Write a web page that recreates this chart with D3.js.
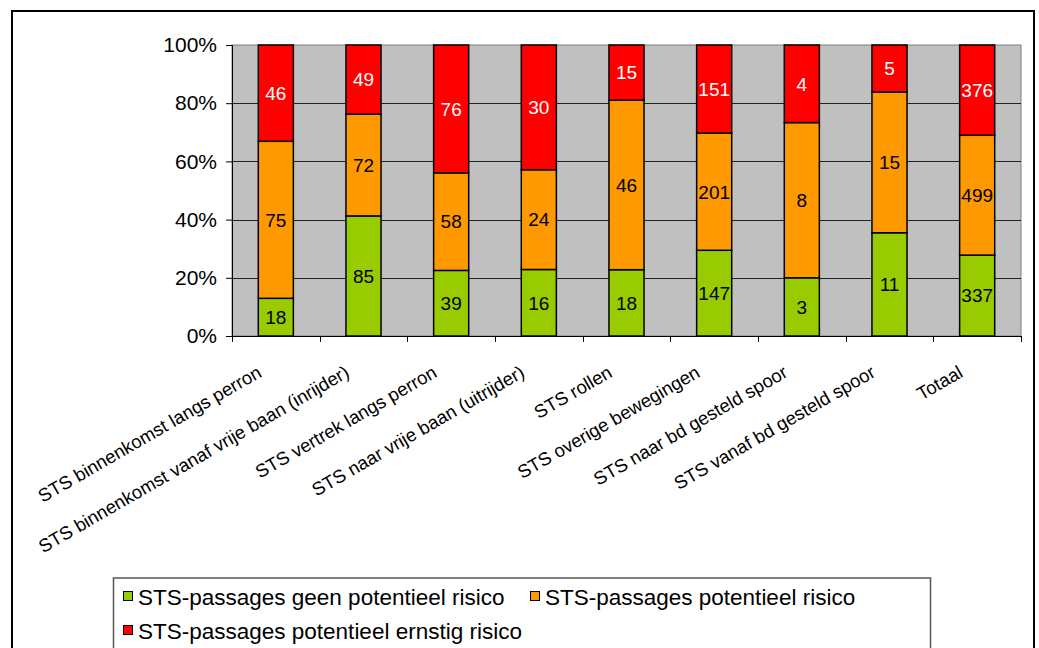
<!DOCTYPE html>
<html>
<head>
<meta charset="utf-8">
<script src="https://cdn.jsdelivr.net/npm/d3@7"></script>
<style>
  body { margin: 0; background: #fff; }
  svg { display: block; font-family: "Liberation Sans", Arial, sans-serif; }
</style>
</head>
<body>
<div id="chart"></div>
<script>
// categories and counts per series
var categories = [
  "STS binnenkomst langs perron",
  "STS binnenkomst vanaf vrije baan (inrijder)",
  "STS vertrek langs perron",
  "STS naar vrije baan (uitrijder)",
  "STS rollen",
  "STS overige bewegingen",
  "STS naar bd gesteld spoor",
  "STS vanaf bd gesteld spoor",
  "Totaal"
];
var geenRisico    = [18, 85, 39, 16, 18, 147, 3, 11, 337];
var potRisico     = [75, 72, 58, 24, 46, 201, 8, 15, 499];
var ernstigRisico = [46, 49, 76, 30, 15, 151, 4, 5, 376];
var seriesNames = [
  "STS-passages geen potentieel risico",
  "STS-passages potentieel risico",
  "STS-passages potentieel ernstig risico"
];
var yTicks = [0, 0.2, 0.4, 0.6, 0.8, 1];

var W = 1039, H = 648;
var plot = {left: 232, right: 1021, top: 45, bottom: 336};
var colors = ["#99CC00", "#FF9900", "#FF0000"];
var labelColors = ["#000", "#000", "#fff"];

var svg = d3.select("#chart").append("svg").attr("width", W).attr("height", H);

// outer frame
svg.append("rect").attr("x", 12).attr("y", 11).attr("width", 1022).attr("height", 700)
  .attr("fill", "#fff").attr("stroke", "#000").attr("stroke-width", 2);

var x = d3.scaleBand().domain(categories).range([plot.left, plot.right]).paddingInner(0.6).paddingOuter(0.3);
var xb = d3.scaleBand().domain(categories).range([plot.left, plot.right]);
var y = d3.scaleLinear().domain([0, 1]).range([plot.bottom, plot.top]);

// plot background
svg.append("rect").attr("x", plot.left).attr("y", plot.top)
  .attr("width", plot.right - plot.left).attr("height", plot.bottom - plot.top)
  .attr("fill", "#C0C0C0").attr("stroke", "#808080").attr("stroke-width", 1);

// gridlines
svg.append("g").selectAll("line").data(yTicks.filter(function(d) { return d > 0 && d < 1; }))
  .enter().append("line")
  .attr("x1", plot.left).attr("x2", plot.right)
  .attr("y1", function(d) { return Math.round(y(d)) + 0.5; })
  .attr("y2", function(d) { return Math.round(y(d)) + 0.5; })
  .attr("stroke", "#222").attr("stroke-width", 1);

// stack data
var rows = categories.map(function(c, i) {
  var tot = geenRisico[i] + potRisico[i] + ernstigRisico[i];
  return {cat: c, v: [geenRisico[i], potRisico[i], ernstigRisico[i]], tot: tot,
          s0: geenRisico[i] / tot, s1: potRisico[i] / tot, s2: ernstigRisico[i] / tot};
});
var stack = d3.stack().keys(["s0", "s1", "s2"]);
var layers = stack(rows);

var bars = svg.append("g");
layers.forEach(function(layer, k) {
  bars.selectAll(null).data(layer).enter().append("rect")
    .attr("x", function(d) { return x(d.data.cat); })
    .attr("width", x.bandwidth())
    .attr("y", function(d) { return y(d[1]); })
    .attr("height", function(d) { return y(d[0]) - y(d[1]); })
    .attr("fill", colors[k]).attr("stroke", "#000").attr("stroke-width", 1.5);
});
layers.forEach(function(layer, k) {
  bars.selectAll(null).data(layer).enter().append("text")
    .attr("x", function(d) { return x(d.data.cat) + x.bandwidth() / 2; })
    .attr("y", function(d) { return (y(d[0]) + y(d[1])) / 2; })
    .attr("dy", "0.36em")
    .attr("text-anchor", "middle")
    .attr("font-size", 19)
    .attr("fill", labelColors[k])
    .text(function(d) { return d.data.v[k]; });
});

// y axis
var yAxis = svg.append("g").attr("transform", "translate(" + plot.left + ",0)")
  .call(d3.axisLeft(y).tickValues(yTicks).tickFormat(d3.format(".0%")).tickSize(6).tickPadding(9));
yAxis.select(".domain").attr("stroke", "#000");
yAxis.selectAll("line").attr("stroke", "#000");
yAxis.selectAll("text").attr("font-size", 21).attr("fill", "#000")
  .attr("font-family", "Liberation Sans, Arial, sans-serif");

// x axis baseline and boundary ticks
svg.append("line").attr("x1", plot.left).attr("x2", plot.right)
  .attr("y1", plot.bottom + 0.5).attr("y2", plot.bottom + 0.5).attr("stroke", "#000");
var bounds = categories.map(function(c) { return xb(c); }).concat([plot.right]);
svg.append("g").selectAll("line").data(bounds).enter().append("line")
  .attr("x1", function(d) { return Math.round(d) + 0.5; })
  .attr("x2", function(d) { return Math.round(d) + 0.5; })
  .attr("y1", plot.bottom).attr("y2", plot.bottom + 6).attr("stroke", "#000");

// rotated category labels
svg.append("g").selectAll("text").data(categories).enter().append("text")
  .attr("transform", function(d) {
    return "translate(" + (xb(d) + xb.bandwidth() / 2 - 13) + "," + 376 + ") rotate(-30)";
  })
  .attr("text-anchor", "end")
  .attr("font-size", 18.5)
  .attr("fill", "#000")
  .text(function(d) { return d; });

// legend
var legend = svg.append("g");
legend.append("rect").attr("x", 113.5).attr("y", 578).attr("width", 817).attr("height", 100)
  .attr("fill", "#fff").attr("stroke", "#555").attr("stroke-width", 1.5);
var legPos = [[123, 597], [530, 597], [123, 631]];
seriesNames.forEach(function(name, k) {
  var g = legend.append("g").attr("transform", "translate(" + legPos[k][0] + "," + legPos[k][1] + ")");
  g.append("rect").attr("x", 0.5).attr("y", -5.5).attr("width", 9).attr("height", 9)
    .attr("fill", colors[k]).attr("stroke", "#000").attr("stroke-width", 1);
  g.append("text").attr("x", 15)
    .attr("dy", "0.35em").attr("font-size", 22.5).attr("fill", "#000")
    .text(name);
});
</script>
</body>
</html>
